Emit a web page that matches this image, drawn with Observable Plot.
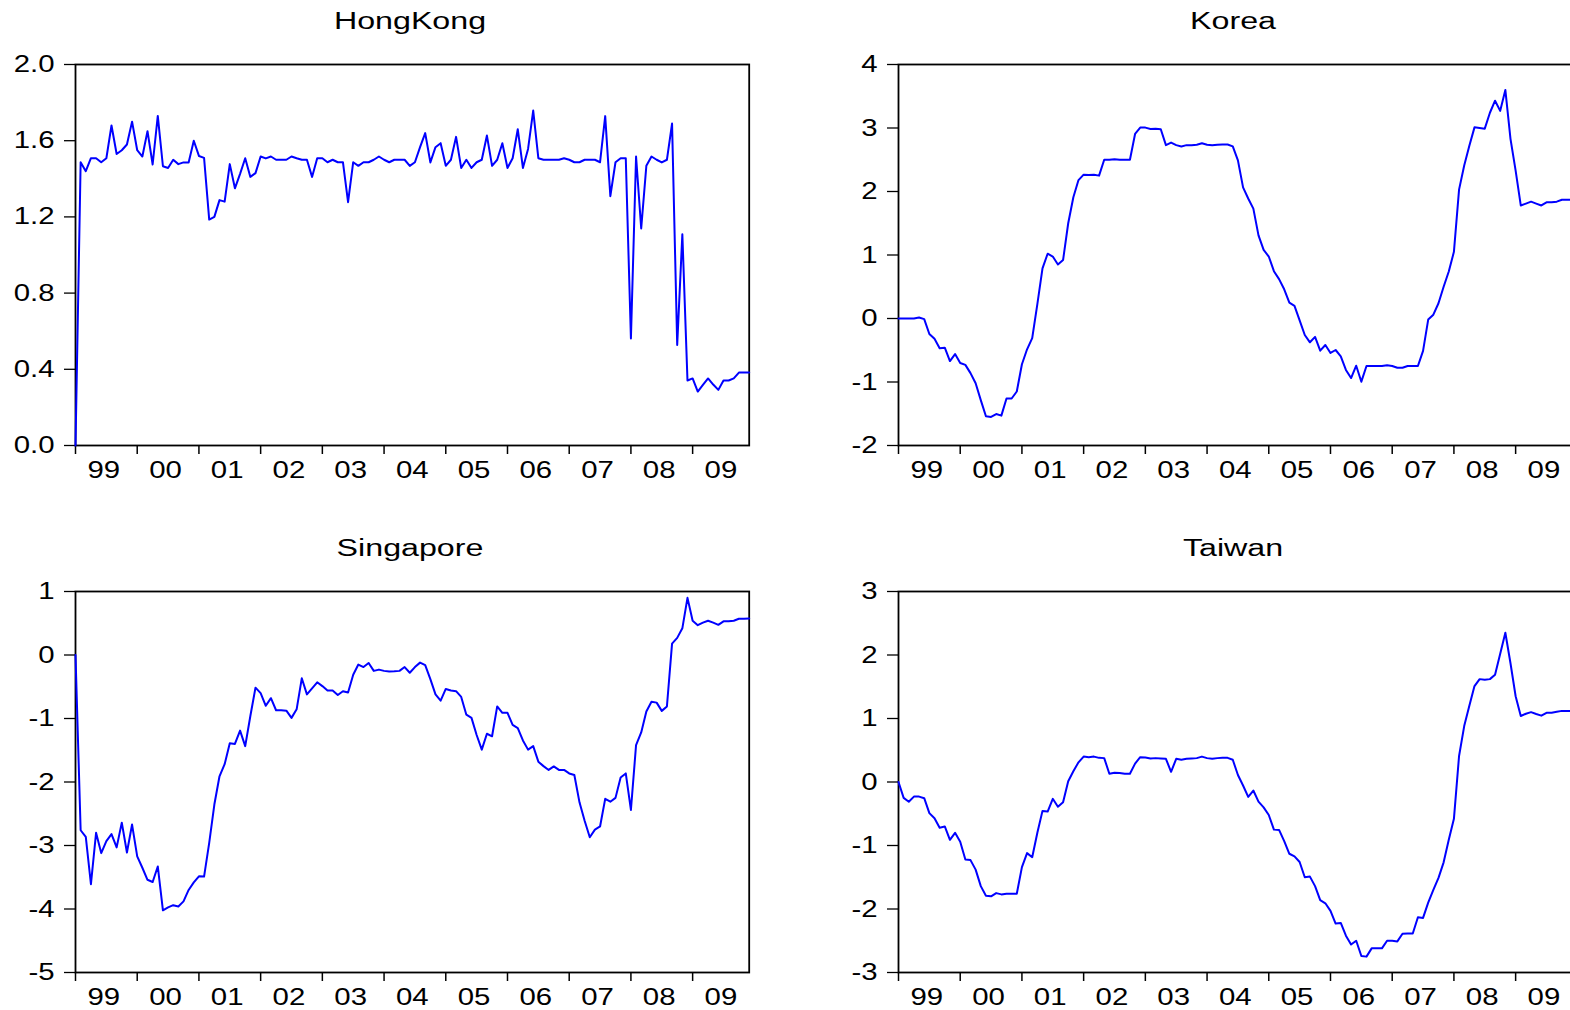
<!DOCTYPE html>
<html><head><meta charset="utf-8">
<script src="https://cdn.jsdelivr.net/npm/d3@7"></script>
<script src="https://cdn.jsdelivr.net/npm/@observablehq/plot@0.6"></script>
<style>
html,body{margin:0;padding:0;background:#fff;}
#page{position:relative;width:1570px;height:1010px;overflow:hidden;background:#fff;}
.panel{position:absolute;}
.title{position:absolute;font-family:"Liberation Sans",Arial,sans-serif;font-size:23.5px;line-height:23.5px;white-space:nowrap;transform:translateX(-50%) scaleX(1.37);color:#000;}
</style></head><body><div id="page"></div>
<script>
// Monthly observations, 1999M01 .. 2009M12 (132 months)
const yearLabels = ["99","00","01","02","03","04","05","06","07","08","09"];

const hongkong = [0.0,1.487,1.44,1.508,1.508,1.487,1.508,1.68,1.53,1.55,1.58,1.70,
1.55,1.517,1.65,1.475,1.73,1.466,1.457,1.50,1.477,1.486,1.486,1.60,
1.52,1.51,1.186,1.20,1.288,1.28,1.477,1.35,1.426,1.508,1.41,1.43,
1.517,1.507,1.517,1.50,1.50,1.50,1.517,1.508,1.50,1.50,1.41,1.508,
1.508,1.487,1.50,1.487,1.487,1.277,1.487,1.468,1.487,1.487,1.50,1.517,
1.50,1.487,1.50,1.50,1.50,1.468,1.487,1.566,1.64,1.486,1.566,1.587,
1.468,1.50,1.62,1.457,1.50,1.457,1.487,1.50,1.627,1.468,1.50,1.587,
1.457,1.508,1.66,1.457,1.557,1.758,1.508,1.50,1.50,1.50,1.50,1.508,
1.50,1.487,1.487,1.50,1.50,1.50,1.487,1.729,1.309,1.487,1.508,1.508,
0.562,1.517,1.139,1.468,1.517,1.50,1.486,1.50,1.69,0.528,1.109,0.341,
0.352,0.283,0.318,0.352,0.32,0.292,0.341,0.341,0.352,0.383,0.383,0.383];

const korea = [0,0,0,0,0.015,-0.01,-0.244,-0.32,-0.47,-0.46,-0.67,-0.56,
-0.70,-0.73,-0.86,-1.02,-1.285,-1.54,-1.55,-1.505,-1.53,-1.26,-1.26,-1.15,
-0.72,-0.485,-0.31,0.225,0.79,1.02,0.976,0.85,0.92,1.50,1.91,2.18,
2.265,2.26,2.265,2.25,2.50,2.50,2.507,2.50,2.50,2.50,2.906,3.006,
3.006,2.985,2.99,2.98,2.73,2.77,2.73,2.71,2.73,2.73,2.737,2.76,
2.737,2.73,2.737,2.74,2.74,2.71,2.49,2.065,1.89,1.73,1.31,1.08,
0.976,0.745,0.62,0.46,0.25,0.20,-0.03,-0.26,-0.375,-0.29,-0.507,-0.417,
-0.543,-0.496,-0.596,-0.81,-0.938,-0.743,-0.995,-0.748,-0.748,-0.748,-0.748,-0.738,
-0.748,-0.775,-0.775,-0.748,-0.748,-0.748,-0.51,-0.017,0.06,0.24,0.50,0.74,
1.05,2.03,2.41,2.72,3.01,3.00,2.99,3.24,3.43,3.27,3.60,2.83,
2.33,1.78,1.81,1.84,1.81,1.78,1.83,1.83,1.84,1.87,1.87,1.87];

const singapore = [0,-2.76,-2.865,-3.61,-2.80,-3.12,-2.93,-2.82,-3.03,-2.64,-3.11,-2.67,
-3.17,-3.35,-3.54,-3.575,-3.33,-4.02,-3.975,-3.94,-3.96,-3.88,-3.70,-3.58,
-3.485,-3.49,-2.96,-2.355,-1.91,-1.72,-1.39,-1.40,-1.19,-1.435,-0.96,-0.514,
-0.60,-0.80,-0.68,-0.87,-0.87,-0.877,-0.99,-0.856,-0.367,-0.62,-0.525,-0.43,
-0.49,-0.56,-0.56,-0.63,-0.57,-0.59,-0.31,-0.15,-0.19,-0.125,-0.25,-0.23,
-0.25,-0.26,-0.257,-0.25,-0.19,-0.28,-0.19,-0.12,-0.16,-0.38,-0.62,-0.72,
-0.535,-0.56,-0.57,-0.66,-0.94,-0.99,-1.26,-1.49,-1.24,-1.28,-0.81,-0.91,
-0.91,-1.10,-1.15,-1.345,-1.49,-1.435,-1.68,-1.75,-1.81,-1.755,-1.81,-1.81,
-1.865,-1.89,-2.32,-2.61,-2.87,-2.75,-2.70,-2.265,-2.31,-2.25,-1.93,-1.865,
-2.44,-1.42,-1.22,-0.89,-0.735,-0.75,-0.88,-0.81,0.18,0.27,0.42,0.90,
0.54,0.47,0.51,0.54,0.51,0.475,0.53,0.53,0.54,0.57,0.57,0.574];

const taiwan = [0,-0.25,-0.31,-0.23,-0.23,-0.255,-0.49,-0.57,-0.72,-0.70,-0.91,-0.80,
-0.94,-1.22,-1.23,-1.38,-1.64,-1.79,-1.80,-1.75,-1.77,-1.76,-1.76,-1.76,
-1.34,-1.12,-1.185,-0.80,-0.455,-0.465,-0.265,-0.39,-0.32,0.013,0.17,0.31,
0.40,0.39,0.40,0.38,0.376,0.13,0.145,0.14,0.13,0.13,0.29,0.39,
0.386,0.37,0.376,0.37,0.365,0.16,0.365,0.35,0.365,0.37,0.376,0.40,
0.376,0.365,0.376,0.38,0.38,0.35,0.11,-0.055,-0.234,-0.134,-0.31,-0.40,
-0.52,-0.75,-0.755,-0.93,-1.13,-1.17,-1.26,-1.50,-1.49,-1.64,-1.86,-1.91,
-2.03,-2.23,-2.22,-2.42,-2.56,-2.50,-2.74,-2.75,-2.62,-2.62,-2.62,-2.50,
-2.50,-2.51,-2.39,-2.385,-2.385,-2.13,-2.14,-1.90,-1.70,-1.51,-1.265,-0.91,
-0.58,0.41,0.88,1.20,1.51,1.62,1.61,1.62,1.69,2.02,2.35,1.87,
1.35,1.04,1.075,1.10,1.07,1.045,1.09,1.09,1.105,1.12,1.12,1.12];

const hkTicks = [0, 0.4, 0.8, 1.2, 1.6, 2.0];
const koreaTicks = [-2, -1, 0, 1, 2, 3, 4];
const singaporeTicks = [-5, -4, -3, -2, -1, 0, 1];
const taiwanTicks = [-3, -2, -1, 0, 1, 2, 3];

const panels = [
  {name: "HongKong", values: hongkong, domain: [0, 2], ticks: hkTicks, fmt: d3.format(".1f"), left: 0, top: 0},
  {name: "Korea", values: korea, domain: [-2, 4], ticks: koreaTicks, fmt: d => String(d), left: 823, top: 0},
  {name: "Singapore", values: singapore, domain: [-5, 1], ticks: singaporeTicks, fmt: d => String(d), left: 0, top: 527},
  {name: "Taiwan", values: taiwan, domain: [-3, 3], ticks: taiwanTicks, fmt: d => String(d), left: 823, top: 527}
];

// widen glyphs horizontally around each label's anchor point
function stretchText(svg, sx) {
  svg.querySelectorAll("text").forEach(t => {
    const xa = t.getAttribute("x");
    let x = 0;
    if (xa !== null && !/[a-z%]/i.test(xa)) { x = +xa || 0; t.removeAttribute("x"); }
    const ya = t.getAttribute("y");
    let y = 0;
    if (ya !== null && !/[a-z%]/i.test(ya)) { y = +ya || 0; t.removeAttribute("y"); }
    const tr = t.getAttribute("transform") || "";
    t.setAttribute("transform", `${tr} translate(${x},${y}) scale(${sx},1)`);
  });
}

const page = document.getElementById("page");
const W = 780, H = 490, ML = 75, MR = 31.3, MT = 64, MB = 45;

for (const p of panels) {
  const chart = Plot.plot({
    width: W, height: H,
    marginLeft: ML, marginRight: MR, marginTop: MT, marginBottom: MB,
    x: {domain: [0, p.values.length - 1]},
    y: {domain: p.domain},
    style: {fontFamily: "Liberation Sans, Arial, sans-serif", fontSize: "23.5px", background: "white", maxWidth: "none", overflow: "visible", color: "black"},
    marks: [
      Plot.axisY({ticks: p.ticks, tickFormat: p.fmt, tickSize: 11, tickPadding: 10, strokeWidth: 1.3, label: null}),
      Plot.axisX({ticks: d3.range(0, 121, 12), tickSize: 9, tickFormat: () => "", strokeWidth: 1.5, label: null}),
      Plot.axisX({ticks: d3.range(5.5, 132, 12), tickSize: 0, tickPadding: 15.5,
                  tickFormat: d => yearLabels[Math.round((d - 5.5) / 12)], label: null}),
      Plot.frame({stroke: "black", strokeWidth: 1.8}),
      Plot.lineY(p.values, {x: (d, i) => i, y: d => d, stroke: "#0000ff", strokeWidth: 2})
    ]
  });
  stretchText(chart, 1.25);
  const holder = document.createElement("div");
  holder.className = "panel";
  holder.style.left = p.left + "px";
  holder.style.top = p.top + "px";
  holder.style.width = W + "px";
  holder.appendChild(chart);
  page.appendChild(holder);

  const title = document.createElement("div");
  title.className = "title";
  title.textContent = p.name;
  title.style.left = (p.left + ML + (W - ML - MR) / 2 - 2) + "px";
  title.style.top = (p.top + 10) + "px";
  page.appendChild(title);
}
</script>
</body></html>
